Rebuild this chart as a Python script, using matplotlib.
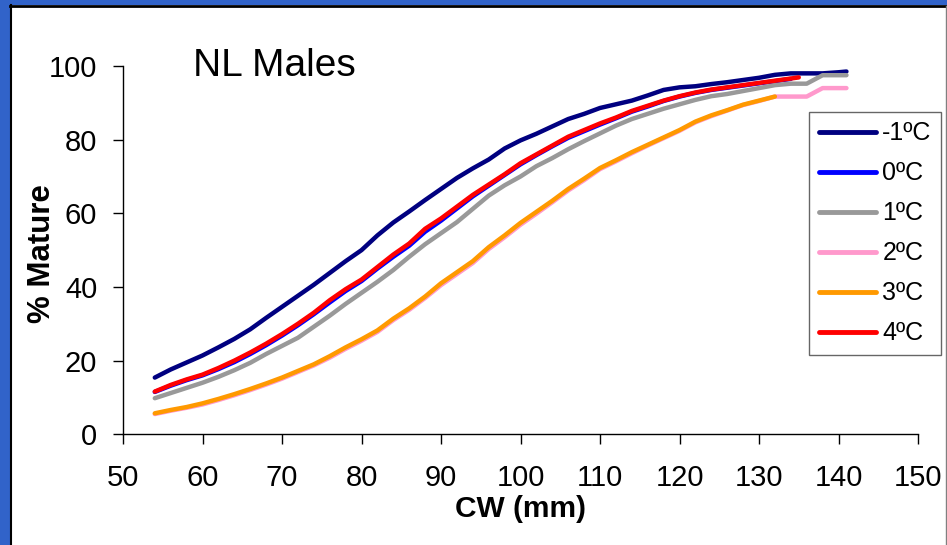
import matplotlib
matplotlib.use("Agg")
import matplotlib.pyplot as plt
from matplotlib.patches import Rectangle
from matplotlib.lines import Line2D

plt.rcParams['font.family'] = ['Liberation Sans', 'DejaVu Sans']

# Carapace width (mm) and percent mature for each temperature scenario
cw_m1 = [54, 56, 58, 60, 62, 64, 66, 68, 70, 72, 74, 76, 78, 80, 82, 84, 86, 88, 90, 92,
         94, 96, 98, 100, 102, 104, 106, 108, 110, 112, 114, 116, 118, 120, 122, 124, 126,
         128, 130, 132, 134, 136, 138, 140, 141]
pm_m1 = [15.4, 17.6, 19.5, 21.4, 23.6, 25.9, 28.5, 31.6, 34.6, 37.6, 40.6, 43.8, 47.0, 50.0,
         54.0, 57.5, 60.5, 63.6, 66.6, 69.6, 72.2, 74.6, 77.6, 79.8, 81.6, 83.6, 85.6, 87.0,
         88.6, 89.6, 90.6, 92.0, 93.5, 94.2, 94.5, 95.1, 95.6, 96.2, 96.8, 97.6, 98.0, 98.0,
         98.0, 98.3, 98.5]

cw_0 = [54, 56, 58, 60, 62, 64, 66, 68, 70, 72, 74, 76, 78, 80, 82, 84, 86, 88, 90, 92,
        94, 96, 98, 100, 102, 104, 106, 108, 110, 112, 114, 116, 118, 120, 122, 124, 126,
        128, 130, 132, 134]
pm_0 = [11.5, 13.2, 14.7, 16.0, 17.7, 19.6, 21.8, 24.2, 26.8, 29.6, 32.6, 35.8, 38.9, 41.6,
        45.0, 48.2, 51.2, 55.0, 58.0, 61.3, 64.6, 67.5, 70.4, 73.3, 75.8, 78.2, 80.5, 82.3,
        84.1, 85.8, 87.6, 89.0, 90.5, 91.7, 92.7, 93.5, 94.1, 94.7, 95.3, 95.9, 96.5]

cw_1 = [54, 56, 58, 60, 62, 64, 66, 68, 70, 72, 74, 76, 78, 80, 82, 84, 86, 88, 90, 92,
        94, 96, 98, 100, 102, 104, 106, 108, 110, 112, 114, 116, 118, 120, 122, 124, 126,
        128, 130, 132, 134, 136, 138, 140, 141]
pm_1 = [9.8, 11.2, 12.6, 14.0, 15.6, 17.4, 19.4, 21.8, 24.0, 26.2, 29.2, 32.2, 35.4, 38.4,
        41.4, 44.6, 48.2, 51.6, 54.6, 57.6, 61.2, 64.8, 67.6, 70.0, 72.8, 75.0, 77.4, 79.6,
        81.7, 83.8, 85.6, 87.0, 88.4, 89.6, 90.8, 91.8, 92.4, 93.2, 94.0, 94.8, 95.2, 95.2,
        97.5, 97.5, 97.5]

cw_2 = [54, 56, 58, 60, 62, 64, 66, 68, 70, 72, 74, 76, 78, 80, 82, 84, 86, 88, 90, 92,
        94, 96, 98, 100, 102, 104, 106, 108, 110, 112, 114, 116, 118, 120, 122, 124, 126,
        128, 130, 132, 134, 136, 138, 140, 141]
pm_2 = [5.5, 6.4, 7.2, 8.1, 9.3, 10.6, 12.0, 13.5, 15.1, 16.9, 18.7, 20.8, 23.2, 25.4,
        27.8, 31.0, 33.8, 37.0, 40.5, 43.5, 46.5, 50.3, 53.5, 56.9, 59.9, 63.0, 66.2, 69.0,
        72.0, 74.1, 76.3, 78.4, 80.4, 82.4, 84.7, 86.4, 87.9, 89.4, 90.5, 91.7, 91.7, 91.7,
        94.0, 94.0, 94.0]

cw_3 = [54, 56, 58, 60, 62, 64, 66, 68, 70, 72, 74, 76, 78, 80, 82, 84, 86, 88, 90, 92,
        94, 96, 98, 100, 102, 104, 106, 108, 110, 112, 114, 116, 118, 120, 122, 124, 126,
        128, 130, 132]
pm_3 = [5.7, 6.6, 7.4, 8.4, 9.6, 10.9, 12.3, 13.8, 15.4, 17.2, 19.0, 21.2, 23.6, 25.8,
        28.2, 31.4, 34.2, 37.4, 41.0, 44.0, 47.0, 50.8, 54.0, 57.4, 60.4, 63.4, 66.6, 69.4,
        72.3, 74.4, 76.6, 78.6, 80.6, 82.6, 84.9, 86.6, 88.0, 89.5, 90.6, 91.7]

cw_4 = [54, 56, 58, 60, 62, 64, 66, 68, 70, 72, 74, 76, 78, 80, 82, 84, 86, 88, 90, 92,
        94, 96, 98, 100, 102, 104, 106, 108, 110, 112, 114, 116, 118, 120, 122, 124, 126,
        128, 130, 132, 134, 135]
pm_4 = [11.6, 13.4, 14.9, 16.2, 18.0, 20.0, 22.2, 24.6, 27.2, 30.0, 33.0, 36.4, 39.4, 42.0,
        45.4, 48.8, 51.8, 55.8, 58.6, 61.8, 65.0, 67.8, 70.6, 73.6, 76.0, 78.4, 80.8, 82.6,
        84.4, 86.0, 87.8, 89.2, 90.6, 91.8, 92.8, 93.6, 94.2, 94.8, 95.4, 96.0, 96.6, 96.9]

series = [
    ("-1ºC", cw_m1, pm_m1, "#000080"),
    ("0ºC", cw_0, pm_0, "#0000FF"),
    ("1ºC", cw_1, pm_1, "#999999"),
    ("2ºC", cw_2, pm_2, "#FF99CC"),
    ("3ºC", cw_3, pm_3, "#FF9900"),
    ("4ºC", cw_4, pm_4, "#FF0000"),
]

x_ticks = [50, 60, 70, 80, 90, 100, 110, 120, 130, 140, 150]
y_ticks = [0, 20, 40, 60, 80, 100]

W, H = 947, 545
fig = plt.figure(figsize=(W / 100, H / 100), dpi=100)
fig.patch.set_facecolor("white")

# Slide-style frame: blue band on top and left, dark rule inside it
blue = "#3163C9"
fig.patches.append(Rectangle((0, 1 - 5 / H), 1, 5 / H, transform=fig.transFigure,
                             facecolor=blue, edgecolor="none", zorder=0))
fig.patches.append(Rectangle((0, 0), 10 / W, 1, transform=fig.transFigure,
                             facecolor=blue, edgecolor="none", zorder=0))
fig.lines.append(Line2D([10.5 / W, 10.5 / W], [0, 1 - 5 / H], transform=fig.transFigure,
                        color="black", lw=1.5))
fig.lines.append(Line2D([10 / W, 1], [1 - 6 / H, 1 - 6 / H], transform=fig.transFigure,
                        color="black", lw=2))
fig.lines.append(Line2D([946 / W, 946 / W], [0, 1 - 6 / H], transform=fig.transFigure,
                        color="#808080", lw=1))

ax = fig.add_axes([123 / W, 1 - 434.3 / H, (918 - 123) / W, (434.3 - 66) / H])
ax.set_facecolor("none")

for label, xs, ys, color in series:
    ax.plot(xs, ys, color=color, lw=3.2, label=label, solid_capstyle="round",
            solid_joinstyle="round")

ax.set_xlim(50, 150)
ax.set_ylim(0, 100)
ax.set_xticks(x_ticks)
ax.set_yticks(y_ticks)
ax.tick_params(axis="both", direction="out", length=7.5, width=1, labelsize=21,
               color="black")
ax.tick_params(axis="x", pad=14)
ax.tick_params(axis="y", pad=11)
for side in ("top", "right"):
    ax.spines[side].set_visible(False)
for side in ("left", "bottom"):
    ax.spines[side].set_linewidth(1)
    ax.spines[side].set_clip_on(False)

ax.set_xlabel("CW (mm)", fontsize=21.5, fontweight="bold", va="baseline")
ax.xaxis.set_label_coords(0.5, -0.2245)
ax.set_ylabel("% Mature", fontsize=22.5, fontweight="bold", va="baseline",
              ha="center", rotation_mode="anchor")
ax.yaxis.set_label_coords(-0.0918, 0.492)

fig.text(193 / W, 1 - 76 / H, "NL Males", fontsize=28, ha="left", va="baseline")

leg = ax.legend(loc="upper left", bbox_to_anchor=(809 / W, 1 - 112 / H),
                bbox_transform=fig.transFigure, borderaxespad=0, fontsize=18,
                frameon=True, fancybox=False, handlelength=2.3, handletextpad=0.25,
                labelspacing=0.64, borderpad=0.38)
leg.get_frame().set_edgecolor("#404040")
leg.get_frame().set_linewidth(1)
for line in leg.get_lines():
    line.set_linewidth(3.5)

fig.savefig("out.png", dpi=100)
